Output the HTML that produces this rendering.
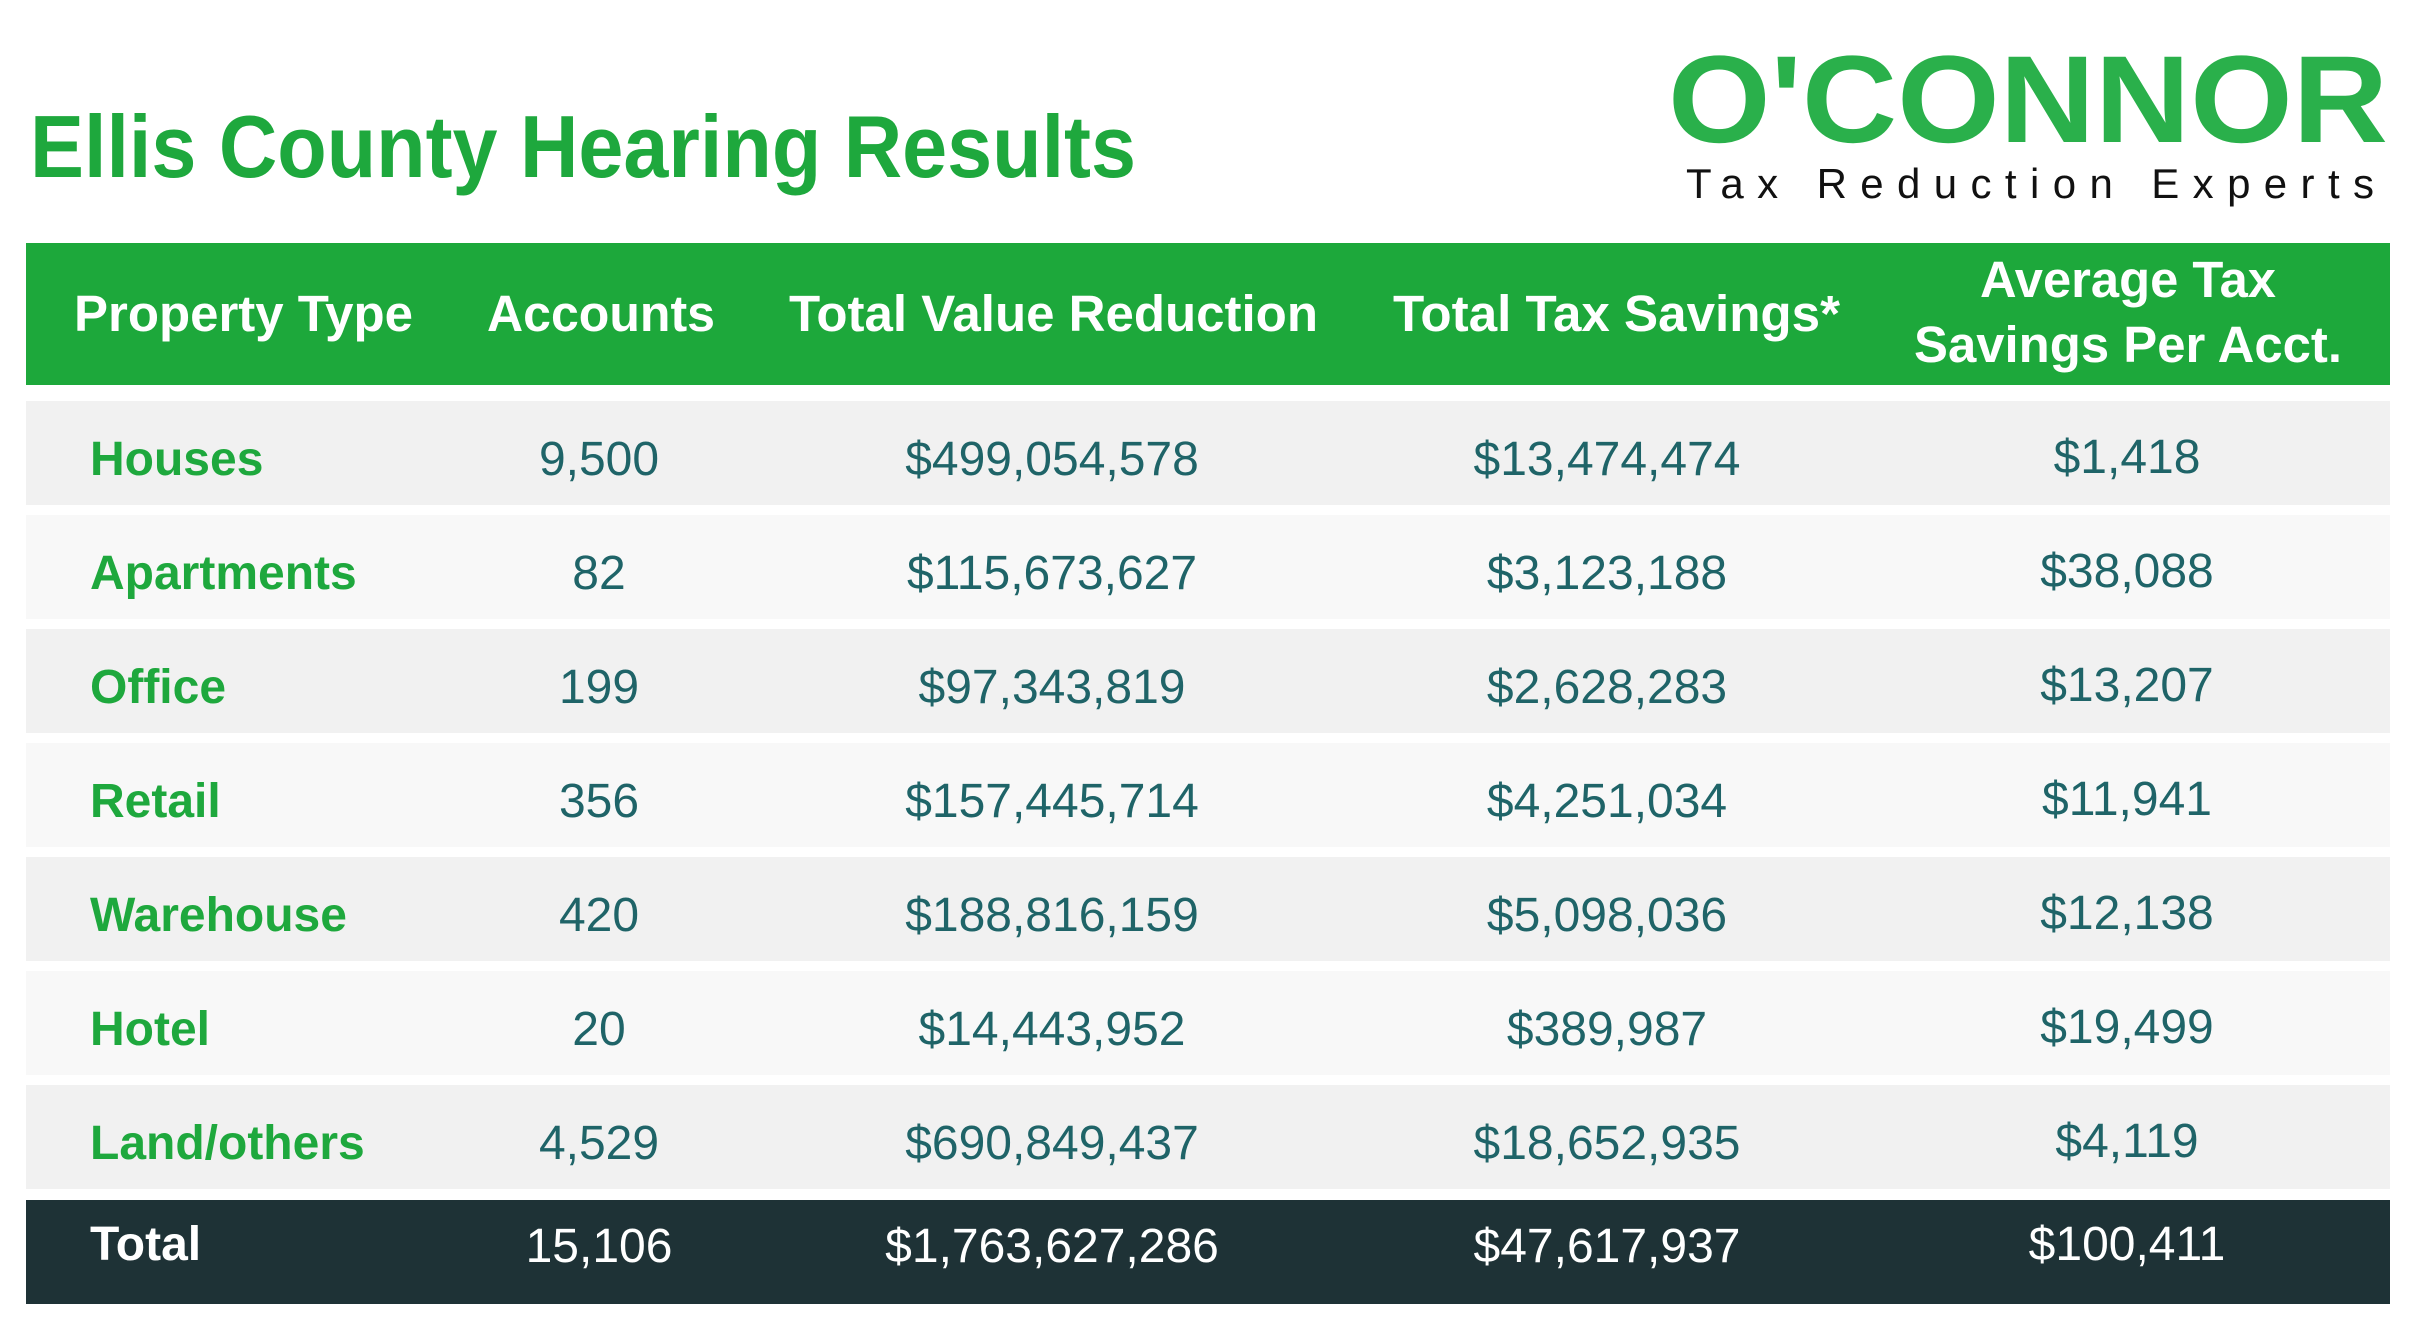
<!DOCTYPE html>
<html><head><meta charset="utf-8"><style>
html,body{margin:0;padding:0;background:#fff;}
svg{display:block;}
</style></head><body>
<svg width="2417" height="1333" viewBox="0 0 2417 1333" xmlns="http://www.w3.org/2000/svg">
<rect width="2417" height="1333" fill="#fff"/>
<text x="30" y="177" font-family="Liberation Sans, sans-serif" font-weight="bold" font-size="88" fill="#1ea83d" textLength="1106" lengthAdjust="spacingAndGlyphs">Ellis County Hearing Results</text>
<text x="1668" y="142" font-family="Liberation Sans, sans-serif" font-weight="bold" font-size="124" fill="#2ab04b" textLength="720" lengthAdjust="spacingAndGlyphs">O'CONNOR</text>
<text x="1686" y="198" font-family="Liberation Sans, sans-serif" font-size="42" fill="#111" textLength="688" lengthAdjust="spacing">Tax Reduction Experts</text>
<rect x="26" y="243" width="2364" height="142" fill="#1da83b"/>
<g font-family="Liberation Sans, sans-serif" font-weight="bold" font-size="51" fill="#fff">
<text x="74" y="331" textLength="339" lengthAdjust="spacingAndGlyphs">Property Type</text>
<text x="487" y="331" textLength="228" lengthAdjust="spacingAndGlyphs">Accounts</text>
<text x="789" y="331" textLength="529" lengthAdjust="spacingAndGlyphs">Total Value Reduction</text>
<text x="1393" y="331" textLength="447" lengthAdjust="spacingAndGlyphs">Total Tax Savings*</text>
<text x="1980" y="297" textLength="296" lengthAdjust="spacingAndGlyphs">Average Tax</text>
<text x="1914" y="362" textLength="428" lengthAdjust="spacingAndGlyphs">Savings Per Acct.</text>
</g>
<g>
<rect x="26" y="401" width="2364" height="104" fill="#f1f1f1"/>
<rect x="26" y="515" width="2364" height="104" fill="#f8f8f8"/>
<rect x="26" y="629" width="2364" height="104" fill="#f1f1f1"/>
<rect x="26" y="743" width="2364" height="104" fill="#f8f8f8"/>
<rect x="26" y="857" width="2364" height="104" fill="#f1f1f1"/>
<rect x="26" y="971" width="2364" height="104" fill="#f8f8f8"/>
<rect x="26" y="1085" width="2364" height="104" fill="#f1f1f1"/>
<rect x="26" y="1200" width="2364" height="104" fill="#1e3236"/>
</g>
<g font-family="Liberation Sans, sans-serif" font-weight="bold" font-size="48" fill="#1ea83d">
<text x="90" y="475">Houses</text>
<text x="90" y="589">Apartments</text>
<text x="90" y="703">Office</text>
<text x="90" y="817">Retail</text>
<text x="90" y="931">Warehouse</text>
<text x="90" y="1045">Hotel</text>
<text x="90" y="1159">Land/others</text>
<text x="90" y="1260" fill="#fff">Total</text>
</g>
<g font-family="Liberation Sans, sans-serif" font-size="48" fill="#1f6468" text-anchor="middle">
<text x="599" y="475">9,500</text><text x="1052" y="475">$499,054,578</text><text x="1607" y="475">$13,474,474</text><text x="2127" y="473">$1,418</text>
<text x="599" y="589">82</text><text x="1052" y="589">$115,673,627</text><text x="1607" y="589">$3,123,188</text><text x="2127" y="587">$38,088</text>
<text x="599" y="703">199</text><text x="1052" y="703">$97,343,819</text><text x="1607" y="703">$2,628,283</text><text x="2127" y="701">$13,207</text>
<text x="599" y="817">356</text><text x="1052" y="817">$157,445,714</text><text x="1607" y="817">$4,251,034</text><text x="2127" y="815">$11,941</text>
<text x="599" y="931">420</text><text x="1052" y="931">$188,816,159</text><text x="1607" y="931">$5,098,036</text><text x="2127" y="929">$12,138</text>
<text x="599" y="1045">20</text><text x="1052" y="1045">$14,443,952</text><text x="1607" y="1045">$389,987</text><text x="2127" y="1043">$19,499</text>
<text x="599" y="1159">4,529</text><text x="1052" y="1159">$690,849,437</text><text x="1607" y="1159">$18,652,935</text><text x="2127" y="1157">$4,119</text>
<g fill="#fff"><text x="599" y="1262">15,106</text><text x="1052" y="1262">$1,763,627,286</text><text x="1607" y="1262">$47,617,937</text><text x="2127" y="1260">$100,411</text></g>
</g>
</svg>
</body></html>
